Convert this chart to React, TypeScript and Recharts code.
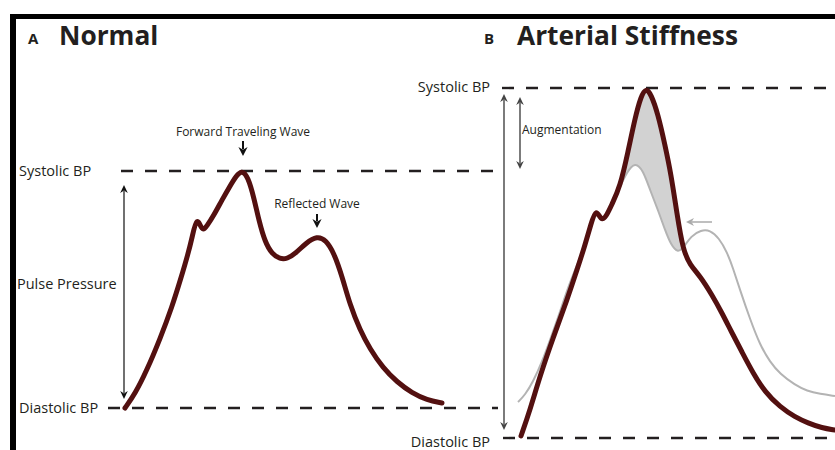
import React from 'react';
import { ComposedChart, Line, Area, XAxis, YAxis, ReferenceLine, ReferenceDot } from 'recharts';

const W = 835;
const H = 450;

// Panel A: normal pressure waveform (time units, pressure units)
const normalTime = [125, 135, 147, 160, 172, 181, 188, 192, 197, 202, 207, 214, 222, 230, 236, 242, 248, 254, 259, 265, 272, 280, 287, 296, 306, 317, 326, 334, 342, 350, 360, 370, 383, 397, 412, 427, 442];
const normalPressure = [42, 56, 80, 111, 143, 172, 196, 212, 235, 218, 224, 235, 250, 264, 274, 280, 273, 252, 229, 208, 196, 191, 191, 197, 207, 214, 210, 197, 174, 145, 120, 101, 82, 68, 57, 50, 47];

// Panel B: stiff artery waveform
const stiffTime = [521, 530, 540, 553, 567, 577, 585, 591, 596, 601, 606, 612, 620, 628, 635, 641, 646, 651, 658, 665, 671, 677, 683, 690, 700, 712, 722, 731, 742, 753, 765, 780, 795, 808, 822, 835];
const stiffPressure = [14, 40, 74, 112, 150, 180, 205, 226, 242, 229, 233, 246, 263, 298, 332, 354, 362, 356, 336, 305, 276, 236, 200, 185, 174, 155, 137, 119, 98, 77, 58, 43, 33, 27, 22, 20];

// Panel B: normal waveform for comparison (grey)
const refTime = [518, 525, 533, 542, 550, 560, 567, 577, 585, 591, 596, 601, 606, 612, 620, 627, 635, 643, 650, 658, 665, 671, 678, 684, 691, 701, 710, 719, 727, 733, 740, 750, 760, 770, 780, 795, 807, 820, 835];
const refPressure = [48, 55, 68, 88, 110, 138, 160, 185, 205, 226, 242, 229, 233, 246, 263, 278, 288, 280, 260, 240, 220, 205, 197, 203, 214, 220, 220, 212, 198, 182, 160, 131, 105, 88, 76, 65, 59, 56, 54];

// Augmentation (shaded region between the two curves)
const shadeTime = [612, 620, 627, 635, 643, 646, 651, 658, 665, 671, 677, 681];
const shadeLow = [246, 263, 277, 285, 278, 271, 257, 240, 220, 206, 199, 200];
const shadeHigh = [246, 263, 294, 330, 354, 358, 353, 334, 305, 274, 236, 210];

// Pressure levels
const aSystolic = 279;
const aDiastolic = 42;
const bSystolic = 362;
const bDiastolic = 12;

const normalRows = normalTime.map((t, i) => ({ t, p: normalPressure[i] }));
const stiffRows = stiffTime.map((t, i) => ({ t, p: stiffPressure[i] }));
const refRows = refTime.map((t, i) => ({ t, p: refPressure[i] }));
const shadeRows = shadeTime.map((t, i) => ({ t, range: [shadeLow[i], shadeHigh[i]] }));

const MAROON = '#531010';
const INK = '#231f20';
const FONT = '"Open Sans", "Liberation Sans", sans-serif';

type Lbl = { text: string; t: number; p: number; size: number; bold?: boolean; anchor?: 'start' | 'middle' | 'end'; fill?: string };
const labels: Lbl[] = [
  { text: 'A', t: 28, p: 406, size: 15, bold: true },
  { text: 'Normal', t: 59, p: 405, size: 26.3, bold: true },
  { text: 'B', t: 484, p: 406, size: 15, bold: true },
  { text: 'Arterial Stiffness', t: 517, p: 405, size: 26.3, bold: true },
  { text: 'Systolic BP', t: 19, p: 274, size: 14.5 },
  { text: 'Pulse Pressure', t: 17, p: 161, size: 14.5 },
  { text: 'Diastolic BP', t: 19, p: 37, size: 14.5 },
  { text: 'Forward Traveling Wave', t: 243, p: 314, size: 12, anchor: 'middle' },
  { text: 'Reflected Wave', t: 317, p: 242, size: 12, anchor: 'middle' },
  { text: 'Systolic BP', t: 490, p: 358, size: 14.5, anchor: 'end' },
  { text: 'Diastolic BP', t: 490, p: 3, size: 14.5, anchor: 'end' },
  { text: 'Augmentation', t: 522, p: 316, size: 12 },
];

type Arr = { t1: number; p1: number; t2: number; p2: number; color: string; both: boolean; w: number; hl: number; hw: number };
const arrows: Arr[] = [
  { t1: 124, p1: 51, t2: 124, p2: 265, color: '#111', both: true, w: 1.2, hl: 8, hw: 3.8 },
  { t1: 243, p1: 309, t2: 243, p2: 294, color: '#111', both: false, w: 2, hl: 9, hw: 4.6 },
  { t1: 317, p1: 236, t2: 317, p2: 222, color: '#111', both: false, w: 2, hl: 9, hw: 4.6 },
  { t1: 504, p1: 20, t2: 504, p2: 356, color: '#444', both: true, w: 1.4, hl: 8, hw: 3.8 },
  { t1: 520, p1: 281, t2: 520, p2: 353, color: '#444', both: true, w: 1.4, hl: 8, hw: 3.8 },
  { t1: 712, p1: 228, t2: 686, p2: 228, color: '#aaa', both: false, w: 1.5, hl: 8, hw: 4 },
];

const head = (x: number, y: number, dx: number, dy: number, color: string, L: number, Wd: number) => {
  const bx = x - dx * L;
  const by = y - dy * L;
  const nx = -dy;
  const ny = dx;
  const mx = x - dx * L * 0.7;
  const my = y - dy * L * 0.7;
  return (
    <path
      d={`M${x},${y} L${bx + nx * Wd},${by + ny * Wd} L${mx},${my} L${bx - nx * Wd},${by - ny * Wd} Z`}
      fill={color}
      stroke="none"
    />
  );
};

const makeArrowShape = (a: Arr) => (props: any) => {
  const { x1, y1, x2, y2 } = props;
  const len = Math.hypot(x2 - x1, y2 - y1) || 1;
  const dx = (x2 - x1) / len;
  const dy = (y2 - y1) / len;
  const inset = a.hl * 0.75;
  const sx = a.both ? x1 + dx * inset : x1;
  const sy = a.both ? y1 + dy * inset : y1;
  return (
    <g>
      <line x1={sx} y1={sy} x2={x2 - dx * inset} y2={y2 - dy * inset} stroke={a.color} strokeWidth={a.w} />
      {head(x2, y2, dx, dy, a.color, a.hl, a.hw)}
      {a.both ? head(x1, y1, -dx, -dy, a.color, a.hl, a.hw) : null}
    </g>
  );
};

const dashed = [
  { t1: 121, t2: 498, p: aSystolic },
  { t1: 108, t2: 498, p: aDiastolic },
  { t1: 502, t2: 835, p: bSystolic },
  { t1: 503, t2: 835, p: bDiastolic },
];

export default function App() {
  return (
    <div style={{ position: 'absolute', left: 0, top: 0, width: W, height: H, background: '#fff', overflow: 'hidden' }}>
      <div style={{ position: 'absolute', left: 10, top: 14, width: W - 10, height: 5, background: '#000' }} />
      <div style={{ position: 'absolute', left: 10, top: 14, width: 6, height: H - 14, background: '#000' }} />
      <div style={{ position: 'absolute', left: 0, top: 0 }}>
        <ComposedChart width={W} height={H} margin={{ top: 0, right: 0, bottom: 0, left: 0 }}>
          <XAxis type="number" dataKey="t" domain={[0, W]} hide allowDataOverflow />
          <YAxis type="number" domain={[0, H]} hide allowDataOverflow />
          {dashed.map((d, i) => (
            <ReferenceLine
              key={'d' + i}
              segment={[{ x: d.t1, y: d.p }, { x: d.t2, y: d.p }]}
              stroke={INK}
              strokeWidth={2.4}
              strokeDasharray="12 12"
              ifOverflow="visible"
            />
          ))}
          <Area
            data={shadeRows}
            dataKey="range"
            type="monotone"
            fill="#d2d2d2"
            fillOpacity={1}
            stroke="none"
            isAnimationActive={false}
            dot={false}
            activeDot={false}
          />
          <Line
            data={refRows}
            dataKey="p"
            type="basis"
            stroke="#b3b3b3"
            strokeWidth={2}
            dot={false}
            activeDot={false}
            isAnimationActive={false}
          />
          <Line
            data={stiffRows}
            dataKey="p"
            type="basis"
            stroke={MAROON}
            strokeWidth={5}
            strokeLinecap="round"
            dot={false}
            activeDot={false}
            isAnimationActive={false}
          />
          <Line
            data={normalRows}
            dataKey="p"
            type="basis"
            stroke={MAROON}
            strokeWidth={5}
            strokeLinecap="round"
            dot={false}
            activeDot={false}
            isAnimationActive={false}
          />
          {arrows.map((a, i) => (
            <ReferenceLine
              key={'a' + i}
              segment={[{ x: a.t1, y: a.p1 }, { x: a.t2, y: a.p2 }]}
              shape={makeArrowShape(a)}
              ifOverflow="visible"
            />
          ))}
          {labels.map((l, i) => (
            <ReferenceDot
              key={'l' + i}
              x={l.t}
              y={l.p}
              r={1}
              ifOverflow="visible"
              shape={(props: any) => (
                <text
                  x={props.cx}
                  y={props.cy}
                  textAnchor={l.anchor || 'start'}
                  fontFamily={FONT}
                  fontSize={l.size}
                  fontWeight={l.bold ? 700 : 400}
                  fill={l.fill || INK}
                >
                  {l.text}
                </text>
              )}
            />
          ))}
        </ComposedChart>
      </div>
    </div>
  );
}
